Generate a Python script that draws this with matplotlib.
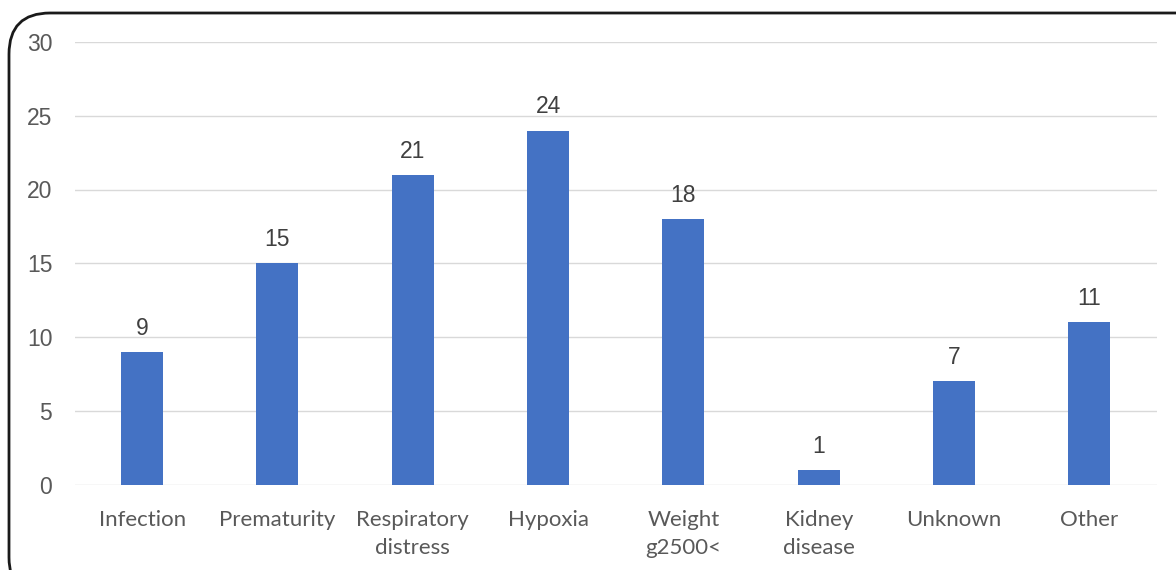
import matplotlib
matplotlib.use("Agg")
import matplotlib.pyplot as plt
from matplotlib.patches import FancyBboxPatch

categories = ["Infection", "Prematurity", "Respiratory\ndistress", "Hypoxia",
              "Weight\ng2500<", "Kidney\ndisease", "Unknown", "Other"]
values = [9, 15, 21, 24, 18, 1, 7, 11]
yticks = [0, 5, 10, 15, 20, 25, 30]

W, H = 1176, 570
fig = plt.figure(figsize=(W / 100, H / 100), dpi=100)
fig.patch.set_facecolor("white")

# rounded border
border = FancyBboxPatch((9 / W, -0.05), 1.2, 1.05 - 13 / H,
                        boxstyle="round,pad=0,rounding_size=0.035",
                        transform=fig.transFigure, fill=False,
                        edgecolor="#1a1a1a", linewidth=2.0,
                        mutation_aspect=W / H)
fig.patches.append(border)

left, right, top, bottom = 74.5, 1157, 42, 484.5
ax = fig.add_axes([left / W, 1 - bottom / H, (right - left) / W, (bottom - top) / H])
x = list(range(len(categories)))
ax.bar(x, values, width=0.31, color="#4472C4", zorder=3)
for xi, v in zip(x, values):
    ax.annotate(str(v), (xi, v), xytext=(0, 12.3), textcoords="offset points",
                ha="center", va="baseline",
                fontsize=16.5, color="#404040", family="Liberation Sans")

ax.set_xlim(-0.5, len(categories) - 0.5)
ax.set_ylim(0, 30)
ax.set_yticks(yticks)
ax.set_yticklabels([str(t) for t in yticks], fontsize=16.5, color="#595959",
                   family="Liberation Sans")
ax.set_xticks(x)
ax.set_xticklabels(categories, fontsize=16, color="#595959", family="Lato",
                   linespacing=1.55)
ax.tick_params(axis="both", length=0)
ax.tick_params(axis="x", pad=18)
ax.tick_params(axis="y", pad=16)
ax.grid(axis="y", color="#D9D9D9", linewidth=1.0, zorder=0)
for s in ax.spines.values():
    s.set_visible(False)

fig.savefig("out.png", dpi=100)
